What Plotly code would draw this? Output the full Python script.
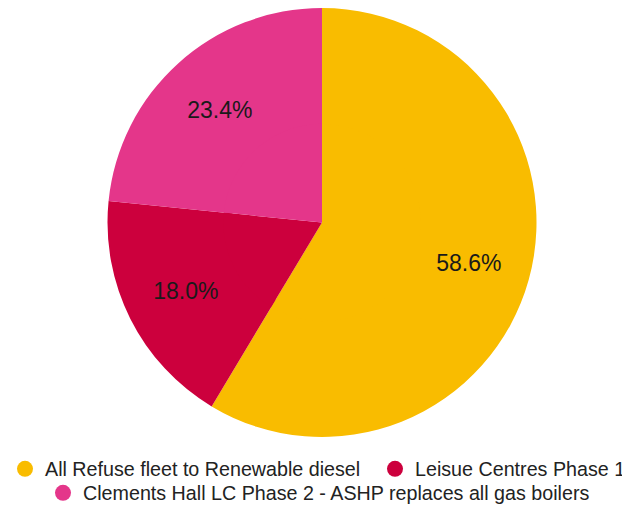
import plotly.graph_objects as go

categories = [
    "All Refuse fleet to Renewable diesel",
    "Leisue Centres Phase 1",
    "Clements Hall LC Phase 2 - ASHP replaces all gas boilers",
]
values = [58.6, 18.0, 23.4]
colors = ["#F9BC00", "#CC003D", "#E4368A"]

# the page body adds an 8px margin, so lay the figure out 8px up/left
W, H = 622, 500
cx, cy, R = 314, 214.5, 214.5
hole = 0.42
inner_r = R * 0.46

def dom(r):
    return dict(x=[(cx - r) / W, (cx + r) / W], y=[max(0, 1 - (cy + r) / H), min(1, 1 - (cy - r) / H)])

fig = go.Figure()
# outer ring carries the labels (positions them at ~0.71 r)
fig.add_trace(go.Pie(
    labels=categories, values=values, sort=False, direction="clockwise", rotation=0,
    hole=hole, marker=dict(colors=colors, line=dict(width=0)),
    texttemplate="%{percent:.1%}", textposition="inside", insidetextorientation="horizontal",
    textfont=dict(family="Liberation Sans, Arial, sans-serif", size=23, color="#1a1a1a"),
    domain=dom(R), showlegend=False, hoverinfo="label+percent",
))
# filled centre
fig.add_trace(go.Pie(
    labels=categories, values=values, sort=False, direction="clockwise", rotation=0,
    marker=dict(colors=colors, line=dict(width=0)), textinfo="none",
    domain=dom(inner_r), showlegend=False, hoverinfo="label+percent",
))
# legend entries with circular markers, one legend per entry
leg_names = ["legend", "legend2", "legend3"]
for name, col, lg in zip(categories, colors, leg_names):
    fig.add_trace(go.Scatter(
        x=[None], y=[None], mode="markers", name=name,
        marker=dict(color=col, size=16, symbol="circle"),
        legend=lg,
    ))

legfont = dict(family="Liberation Sans, Arial, sans-serif", size=19.7, color="#222222")
def leg(xpx, ypx, anchor="left"):
    return dict(orientation="h", x=xpx / W, xanchor=anchor, y=1 - ypx / H, yanchor="middle",
                font=legfont, bgcolor="rgba(0,0,0,0)", itemwidth=30)

fig.update_layout(
    width=W, height=H,
    margin=dict(l=0, r=0, t=0, b=0, autoexpand=False),
    paper_bgcolor="white", plot_bgcolor="white",
    xaxis=dict(visible=False), yaxis=dict(visible=False),
    legend=leg(-3, 461),
    legend2=leg(W + 1, 461, "right"),
    legend3=leg(35, 485),
)
fig.write_html("out.html")
